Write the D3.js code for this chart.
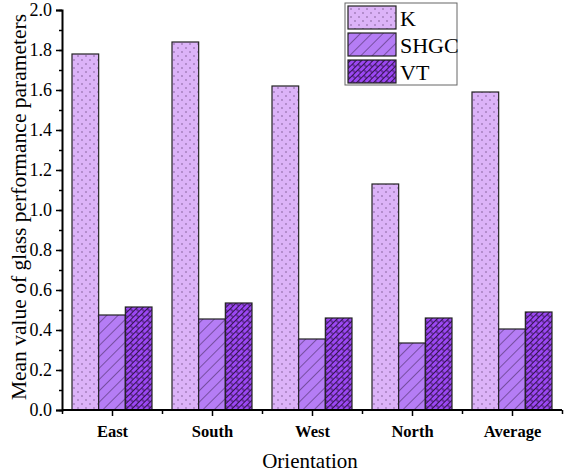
<!DOCTYPE html>
<html>
<head>
<meta charset="utf-8">
<script src="https://cdn.jsdelivr.net/npm/d3@7"></script>
<style>
  body { margin: 0; background: #fff; }
  svg text { font-family: "Liberation Serif", "Times New Roman", serif; fill: #000; }
</style>
</head>
<body>
<div id="chart"></div>
<script>
// data
var categories = ["East", "South", "West", "North", "Average"];
var seriesNames = ["K", "SHGC", "VT"];
var kValues = [1.78, 1.84, 1.62, 1.13, 1.59];
var shgcValues = [0.475, 0.455, 0.355, 0.335, 0.405];
var vtValues = [0.515, 0.535, 0.46, 0.46, 0.49];
var yTicks = [0.0, 0.2, 0.4, 0.6, 0.8, 1.0, 1.2, 1.4, 1.6, 1.8, 2.0];

var W = 566, H = 474;
var margin = { top: 10, right: 4, bottom: 64, left: 62 };
var width = W - margin.left - margin.right;
var height = H - margin.top - margin.bottom;
var serif = "'Liberation Serif', 'Times New Roman', serif";

var fills = { K: "#dcb3f8", SHGC: "#b57df5", VT: "#9b47f2" };

var table = categories.map(function (c, i) {
  return { name: c, K: kValues[i], SHGC: shgcValues[i], VT: vtValues[i] };
});

var svg = d3.select("#chart").append("svg")
  .attr("width", W)
  .attr("height", H);

// fill patterns
var defs = svg.append("defs");

var pDot = defs.append("pattern")
  .attr("id", "pat-K")
  .attr("patternUnits", "userSpaceOnUse")
  .attr("width", 8).attr("height", 8);
pDot.append("rect").attr("width", 8).attr("height", 8).attr("fill", fills.K);
pDot.append("circle").attr("cx", 2).attr("cy", 2).attr("r", 0.7).attr("fill", "#6a4a80");
pDot.append("circle").attr("cx", 6).attr("cy", 6).attr("r", 0.7).attr("fill", "#6a4a80");

var pLine = defs.append("pattern")
  .attr("id", "pat-SHGC")
  .attr("patternUnits", "userSpaceOnUse")
  .attr("width", 8).attr("height", 8)
  .attr("patternTransform", "rotate(-45)");
pLine.append("rect").attr("width", 8).attr("height", 8).attr("fill", fills.SHGC);
pLine.append("line").attr("x1", 0).attr("y1", 0).attr("x2", 8).attr("y2", 0)
  .attr("stroke", "#3a2050").attr("stroke-width", 1);

var pBrick = defs.append("pattern")
  .attr("id", "pat-VT")
  .attr("patternUnits", "userSpaceOnUse")
  .attr("width", 8).attr("height", 8)
  .attr("patternTransform", "rotate(-45)");
pBrick.append("rect").attr("width", 8).attr("height", 8).attr("fill", fills.VT);
pBrick.append("path")
  .attr("d", "M0,0.5H8M0,4.5H8M2,0.5V4.5M6,4.5V8.5")
  .attr("stroke", "#2a1040").attr("stroke-width", 0.9).attr("fill", "none");

var g = svg.append("g")
  .attr("transform", "translate(" + margin.left + "," + margin.top + ")");

var x0 = d3.scaleBand().domain(categories).range([0, width]).paddingInner(0.2).paddingOuter(0.1);
var xCat = d3.scaleBand().domain(categories).range([0, width]);
var x1 = d3.scaleBand().domain(seriesNames).range([0, x0.bandwidth()]);
var y = d3.scaleLinear().domain([0, 2]).range([height, 0]);

// bars
var groups = g.selectAll(".grp")
  .data(table)
  .enter().append("g")
  .attr("class", "grp")
  .attr("transform", function (d) { return "translate(" + x0(d.name) + ",0)"; });

groups.selectAll("rect")
  .data(function (d) { return seriesNames.map(function (s) { return { key: s, value: d[s] }; }); })
  .enter().append("rect")
  .attr("x", function (d) { return x1(d.key); })
  .attr("y", function (d) { return y(d.value); })
  .attr("width", x1.bandwidth())
  .attr("height", function (d) { return height - y(d.value); })
  .attr("fill", function (d) { return "url(#pat-" + d.key + ")"; })
  .attr("stroke", "#222")
  .attr("stroke-width", 1.2);

// y axis with minor ticks
g.append("g")
  .call(d3.axisLeft(y).tickValues(d3.range(0, 2.01, 0.1)).tickSize(3).tickFormat(""))
  .call(function (a) { a.select(".domain").remove(); a.selectAll("line").attr("stroke-width", 1.5); });
var yAx = g.append("g")
  .call(d3.axisLeft(y).tickValues(yTicks).tickSize(6).tickPadding(4).tickFormat(d3.format(".1f")));
yAx.attr("font-family", serif);
yAx.select(".domain").attr("stroke-width", 2);
yAx.selectAll("line").attr("stroke-width", 1.5);
yAx.selectAll("text").style("font-size", "18px").style("font-family", serif);

// x axis: major ticks at centres, minor ticks at boundaries
g.append("g")
  .attr("transform", "translate(0," + height + ")")
  .call(d3.axisBottom(d3.scaleLinear().domain([0, categories.length]).range([0, width]))
    .tickValues(d3.range(0, categories.length + 1)).tickSize(4).tickFormat(""))
  .call(function (a) { a.select(".domain").remove(); a.selectAll("line").attr("stroke-width", 1.5); });
var xAx = g.append("g")
  .attr("transform", "translate(0," + height + ")")
  .call(d3.axisBottom(d3.scalePoint().domain(categories).range([xCat.bandwidth() / 2, width - xCat.bandwidth() / 2]))
    .tickSize(6).tickSizeOuter(0).tickPadding(9));
xAx.attr("font-family", serif);
xAx.select(".domain").attr("d", "M0,0H" + width).attr("stroke-width", 2);
xAx.selectAll("line").attr("stroke-width", 1.5);
xAx.selectAll("text").style("font-size", "16.5px").style("font-weight", "bold").style("font-family", serif);

// axis titles
svg.append("text")
  .attr("x", margin.left + width / 2 - 2)
  .attr("y", 468)
  .attr("text-anchor", "middle")
  .style("font-size", "21px")
  .text("Orientation");

svg.append("text")
  .attr("transform", "translate(26," + (margin.top + height / 2 - 3) + ") rotate(-90)")
  .attr("text-anchor", "middle")
  .style("font-size", "21.5px")
  .text("Mean value of glass performance parameters");

// legend
var lg = svg.append("g").attr("transform", "translate(345,3)");
lg.append("rect").attr("width", 112).attr("height", 82)
  .attr("fill", "#fff").attr("stroke", "#666").attr("stroke-width", 1);
seriesNames.forEach(function (s, i) {
  lg.append("rect")
    .attr("x", 3).attr("y", 3 + i * 27)
    .attr("width", 48).attr("height", 23)
    .attr("fill", "url(#pat-" + s + ")")
    .attr("stroke", "#222").attr("stroke-width", 1.2);
  lg.append("text")
    .attr("x", 55).attr("y", 23 + i * 27)
    .style("font-size", "22px")
    .text(s);
});
</script>
</body>
</html>
